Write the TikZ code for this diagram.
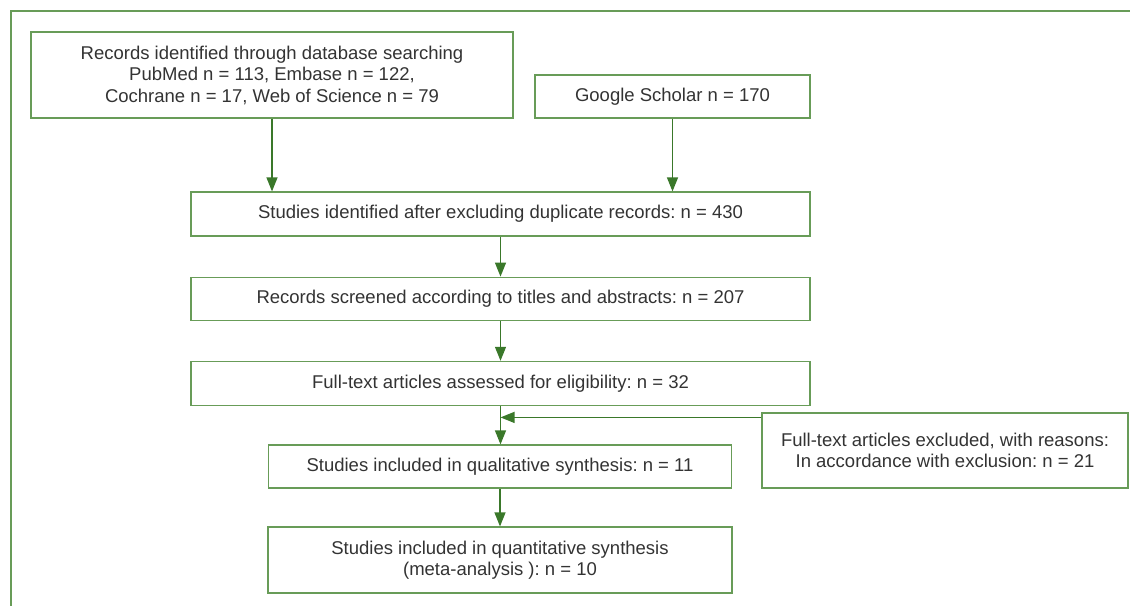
\documentclass[tikz,border=0pt]{standalone}
\usepackage{fontspec}
\setmainfont{Liberation Sans}
\usepackage{xcolor}
\usetikzlibrary{positioning, arrows.meta}
\definecolor{boxgreen}{RGB}{104,156,88}
\definecolor{arrowgreen}{RGB}{58,120,42}
\definecolor{textgrey}{RGB}{51,51,51}
\frenchspacing

\begin{document}
\begin{tikzpicture}[x=1pt, y=-1pt, >={Triangle[width=11pt, length=14pt]},
        box/.style={draw=boxgreen, line width=1.2pt, rectangle, align=center, inner sep=0pt, text=textgrey, font=\fontsize{18.5}{21.5}\selectfont},
        flow/.style={->, draw=arrowgreen, line width=1.2pt}]
                \useasboundingbox (0,0) rectangle (1130,606);
                \draw [draw=boxgreen, line width=1.5pt] (1130,11) -- (11,11) -- (11,606);
                \node [box, minimum width=482pt, minimum height=86pt] (records) at (272,75) {Records identified through database searching\\PubMed n = 113, Embase n = 122,\\Cochrane n = 17, Web of Science n = 79};
                \node [box, minimum width=275pt, minimum height=43pt] (scholar) at (672.5,96.5) {Google Scholar n = 170};
                \node [box, minimum width=619pt, minimum height=44pt] (dedup) at (500.5,214) {Studies identified after excluding duplicate records: n = 430};
                \node [box, minimum width=619pt, minimum height=43pt, below=40pt of dedup] (screened) {Records screened according to titles and abstracts: n = 207};
                \node [box, minimum width=619pt, minimum height=44pt, below=40pt of screened] (fulltext) {Full-text articles assessed for eligibility: n = 32};
                \node [box, minimum width=366pt, minimum height=75pt] (excluded) at (945,450.5) {Full-text articles excluded, with reasons:\\In accordance with exclusion: n = 21};
                \node [box, minimum width=463pt, minimum height=43pt] (qualitative) at (500,466.5) {Studies included in qualitative synthesis: n = 11};
                \node [box, minimum width=464pt, minimum height=66pt] (quantitative) at (500,560) {Studies included in quantitative synthesis\\(meta-analysis ): n = 10};
                \coordinate (exin) at ([yshift=-5pt]excluded.north west);
                \draw [flow] (records.south) -- (records.south |- dedup.north);
                \draw [flow] (scholar.south) -- (scholar.south |- dedup.north);
                \draw [flow] (dedup) -- (screened);
                \draw [flow] (screened) -- (fulltext);
                \draw [flow] (fulltext.south) -- (qualitative.north -| fulltext.south);
                \draw [flow] (exin) -- (exin -| fulltext.south);
                \draw [flow] (qualitative) -- (quantitative);
\end{tikzpicture}
\end{document}
